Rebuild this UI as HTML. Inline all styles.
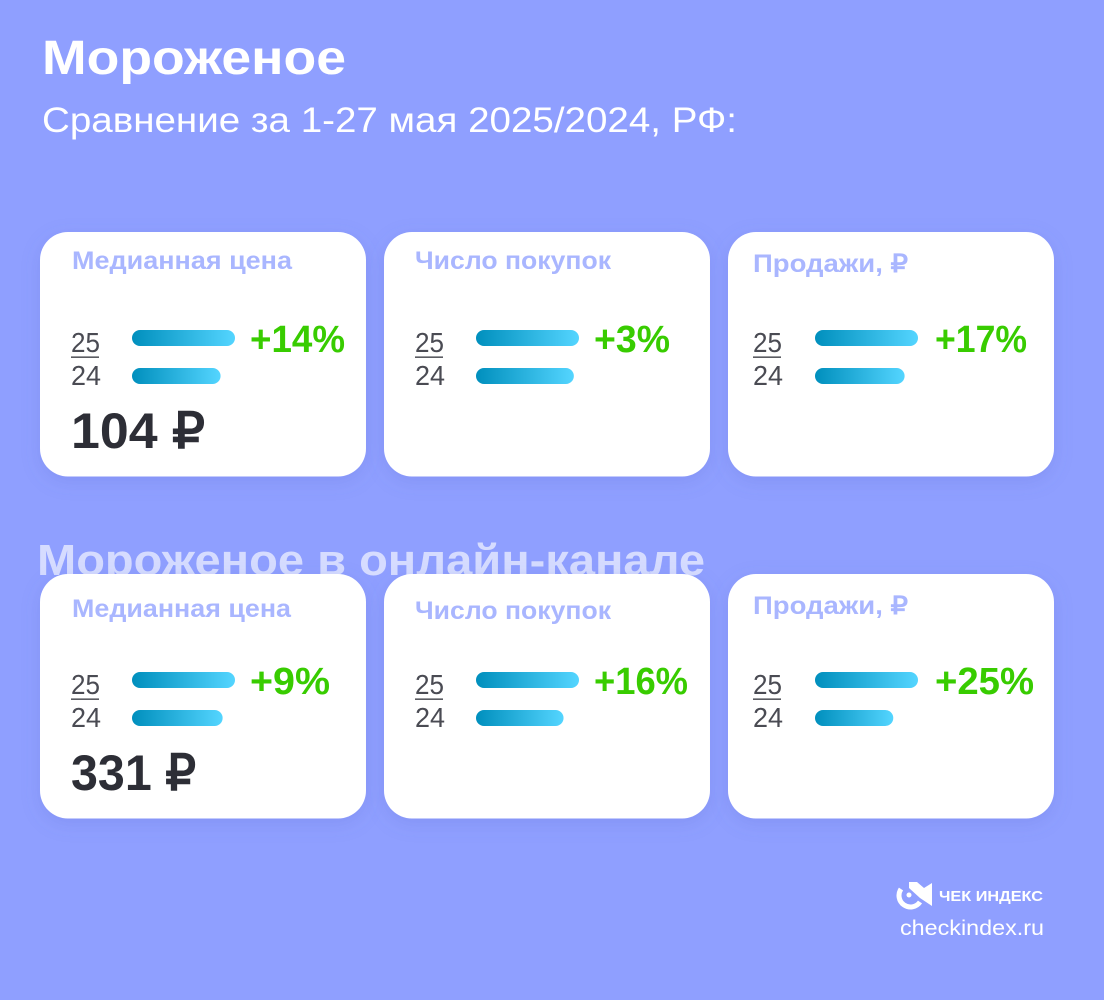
<!DOCTYPE html>
<html lang="ru">
<head>
<meta charset="utf-8">
<title>Мороженое</title>
<style>
html,body{margin:0;padding:0;background:#8f9fff;}
body{width:1104px;height:1000px;overflow:hidden;}
svg{display:block;}
text{font-family:"Liberation Sans",sans-serif;}
.b{font-weight:700;}
.lab{font-weight:700;font-size:25px;fill:#a9b6ff;}
.frac{font-size:28px;fill:#4a4b53;}
.val{font-weight:700;font-size:50px;fill:#2d2e36;}
.pct{font-weight:700;font-size:38px;fill:#38cc00;}
</style>
</head>
<body>
<svg id="chart" width="1104" height="1000" viewBox="0 0 1104 1000" xmlns="http://www.w3.org/2000/svg">
<defs>
<linearGradient id="barGrad" x1="0" y1="0" x2="1" y2="0">
<stop offset="0" stop-color="#008fbd"/>
<stop offset="1" stop-color="#54d5ff"/>
</linearGradient>
<filter id="cardShadow" x="-10%" y="-10%" width="120%" height="125%">
<feDropShadow dx="0" dy="5" stdDeviation="9" flood-color="#5a6ad0" flood-opacity="0.22"/>
</filter>
</defs>
<rect width="1104" height="1000" fill="#8f9fff"/>
<text x="42" y="74" class="b" font-size="48" fill="#fff" textLength="304" lengthAdjust="spacingAndGlyphs">Мороженое</text>
<text x="42" y="132" font-size="35" fill="#fff" textLength="695" lengthAdjust="spacingAndGlyphs">Сравнение за 1-27 мая 2025/2024, РФ:</text>
<text x="37" y="575" class="b" font-size="44" fill="#d6dcff" textLength="668" lengthAdjust="spacingAndGlyphs">Мороженое в онлайн-канале</text>

<g id="cards"></g>
<g id="labels">
<text x="72" y="269" class="lab" textLength="220" lengthAdjust="spacingAndGlyphs">Медианная цена</text>
<text x="415" y="269" class="lab" textLength="196" lengthAdjust="spacingAndGlyphs">Число покупок</text>
<text x="753" y="272" class="lab" textLength="155" lengthAdjust="spacingAndGlyphs">Продажи, ₽</text>
<text x="72" y="617" class="lab" textLength="219" lengthAdjust="spacingAndGlyphs">Медианная цена</text>
<text x="415" y="619" class="lab" textLength="196" lengthAdjust="spacingAndGlyphs">Число покупок</text>
<text x="753" y="614" class="lab" textLength="155" lengthAdjust="spacingAndGlyphs">Продажи, ₽</text>
<text x="71" y="448" class="val" textLength="134" lengthAdjust="spacingAndGlyphs">104 ₽</text>
<text x="71" y="790" class="val" textLength="125" lengthAdjust="spacingAndGlyphs">331 ₽</text>
</g>
<g id="marks"></g>

<g>
<path d="M901 889 A10.5 10.5 0 0 0 920 902" fill="none" stroke="#fff" stroke-width="5"/>
<circle cx="909" cy="895" r="2.5" fill="#fff"/>
<path d="M909 882 L917 882 L924 888 L932 883 L932 906 L920 898 L909 888 Z" fill="#fff"/>
<text x="939" y="901" class="b" font-size="15" fill="#fff" textLength="104" lengthAdjust="spacingAndGlyphs">ЧЕК ИНДЕКС</text>
<text x="900" y="935" font-size="21" fill="#fff" textLength="144" lengthAdjust="spacingAndGlyphs">checkindex.ru</text>
</g>
</svg>
<script>
const categories = ['median-price', 'purchases', 'sales', 'online-median-price', 'online-purchases', 'online-sales'];
const values2025 = [100, 100, 100, 100, 100, 100];
const values2024 = [86, 95, 87, 88, 85, 76];
const pctLabels = ['+14%', '+3%', '+17%', '+9%', '+16%', '+25%'];
const yearLabels = ['25', '24'];

const NS = 'http://www.w3.org/2000/svg';
const cardsG = document.getElementById('cards');
const marksG = document.getElementById('marks');

function cardX(i) { return 40 + 344 * (i % 3); }
function cardY(i) { return 232 + 342 * Math.floor(i / 3); }
function barX(i) { return cardX(i) + (i % 3 === 2 ? 87 : 92); }
function barLen(v) { return v * 1.03; }
function pctWidth(label) {
  const digit = { '1': 15, '2': 21, '3': 20, '4': 24, '5': 22, '6': 23, '7': 21, '8': 23, '9': 24, '0': 23 };
  let w = 56;
  for (const ch of label) if (digit[ch]) w += digit[ch];
  return w;
}
function make(tag, attrs, parent) {
  const el = document.createElementNS(NS, tag);
  for (const k in attrs) el.setAttribute(k, attrs[k]);
  parent.appendChild(el);
  return el;
}

categories.forEach(function (cat, i) {
  const cx = cardX(i), cy = cardY(i);
  const card = make('rect', { x: cx, y: cy, width: 326, height: 244.5, rx: 28, fill: '#fff', filter: 'url(#cardShadow)' }, cardsG);
  
  

  const fx = cx + (i % 3 === 2 ? 25 : 31);
  const t25 = make('text', { x: fx, y: cy + 120, class: 'frac', textLength: 29, lengthAdjust: 'spacingAndGlyphs' }, marksG);
  t25.textContent = yearLabels[0];
  
  

  const rule = make('rect', { x: fx, y: cy + 124.5, width: 28, height: 1.3, fill: '#33343c' }, marksG);
  
  

  const t24 = make('text', { x: fx, y: cy + 153, class: 'frac', textLength: 30, lengthAdjust: 'spacingAndGlyphs' }, marksG);
  t24.textContent = yearLabels[1];
  
  

  const bx = barX(i);
  const bar25 = make('rect', { x: bx, y: cy + 98, width: barLen(values2025[i]), height: 16, rx: 8, fill: 'url(#barGrad)' }, marksG);
  
  

  const bar24 = make('rect', { x: bx, y: cy + 136, width: barLen(values2024[i]), height: 16, rx: 8, fill: 'url(#barGrad)' }, marksG);
  
  

  const pct = make('text', { x: cx + (i % 3 === 2 ? 207 : 210), y: cy + 120, class: 'pct', textLength: pctWidth(pctLabels[i]), lengthAdjust: 'spacingAndGlyphs' }, marksG);
  pct.textContent = pctLabels[i];
  
  
});
</script>
</body>
</html>
